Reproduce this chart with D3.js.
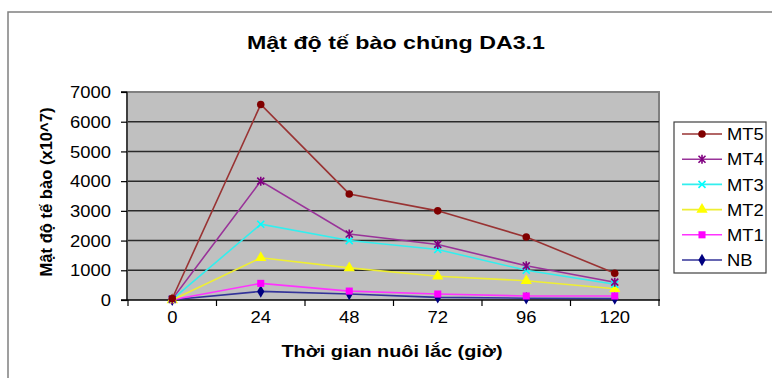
<!DOCTYPE html>
<html>
<head>
<meta charset="utf-8">
<script src="https://cdn.jsdelivr.net/npm/d3@7"></script>
<style>
  html, body { margin: 0; padding: 0; background: #fff; }
  svg { display: block; }
  text { font-family: Arial, "Liberation Sans", sans-serif; fill: #000; }
</style>
</head>
<body>
<svg id="chart" width="772" height="378"></svg>
<script>
// ---- Data ----
const categories = ["0", "24", "48", "72", "96", "120"];
const yTicks = [0, 1000, 2000, 3000, 4000, 5000, 6000, 7000];
const seriesNames = ["NB", "MT1", "MT2", "MT3", "MT4", "MT5"];
const NB  = [10, 290, 200, 90, 60, 50];
const MT1 = [10, 560, 300, 200, 135, 135];
const MT2 = [0, 1420, 1080, 800, 650, 380];
const MT3 = [20, 2550, 2000, 1700, 1000, 530];
const MT4 = [30, 4000, 2220, 1870, 1150, 600];
const MT5 = [50, 6580, 3570, 3000, 2120, 900];
const seriesValues = [NB, MT1, MT2, MT3, MT4, MT5];
const colors = ["#000080", "#FF00FF", "#FFFF00", "#00FFFF", "#800080", "#800000"];
const lineColors = ["#333399", "#FF33FF", "#EEEE33", "#33EEEE", "#993399", "#993333"];
const legendOrder = ["MT5", "MT4", "MT3", "MT2", "MT1", "NB"];

const svg = d3.select("#chart");

// outer chart frame (top & left visible)
svg.append("rect").attr("x", 8).attr("y", 12).attr("width", 800).attr("height", 400)
  .attr("fill", "#fff").attr("stroke", "#808080").attr("stroke-width", 1.5);

const L = 128, R = 659, T = 92, B = 300;
const x = d3.scaleBand().domain(categories).range([L, R]);
const y = d3.scaleLinear().domain([0, 7000]).range([B, T]);
const cx = d => x(d) + x.bandwidth() / 2;

// plot area
svg.append("rect").attr("x", L).attr("y", T).attr("width", R - L).attr("height", B - T)
  .attr("fill", "#C0C0C0");
// right & top border of plot
svg.append("path").attr("d", `M${L},${T}H${R}V${B}`).attr("fill", "none")
  .attr("stroke", "#808080").attr("stroke-width", 2);

// gridlines
svg.append("g").selectAll("line").data(yTicks.filter(v => v > 0 && v < 7000)).join("line")
  .attr("x1", L).attr("x2", R).attr("y1", d => y(d)).attr("y2", d => y(d))
  .attr("stroke", "#2a2a2a").attr("stroke-width", 1.5);

function stretch(sel, f) {
  sel.each(function () {
    const w = this.getComputedTextLength();
    d3.select(this).attr("textLength", w * f).attr("lengthAdjust", "spacingAndGlyphs");
  });
}

// y axis
const gy = svg.append("g").attr("transform", `translate(${L - 1},0)`)
  .call(d3.axisLeft(y).tickValues(yTicks).tickFormat(d3.format("d")).tickSize(6).tickPadding(10));
gy.select(".domain").attr("stroke", "#000").attr("stroke-width", 1.5).attr("d", `M-6,${T}H0V${B}H-6`);
gy.selectAll(".tick line").attr("stroke", "#000").attr("stroke-width", 1.2);
gy.selectAll("text").attr("font-size", 16).attr("font-family", "Arial, 'Liberation Sans', sans-serif")
  .attr("fill", "#000").attr("dy", "0.35em");
stretch(gy.selectAll("text"), 1.15);

// x axis
const gx = svg.append("g").attr("transform", `translate(0,${B})`)
  .call(d3.axisBottom(x).tickSize(0).tickPadding(11));
gx.select(".domain").attr("stroke", "#000").attr("stroke-width", 1.5).attr("d", `M${L - 1},0H${R + 1}`);
gx.selectAll("text").attr("font-size", 16).attr("font-family", "Arial, 'Liberation Sans', sans-serif")
  .attr("fill", "#000").attr("dy", "0.75em");
stretch(gx.selectAll("text"), 1.15);
const boundaries = categories.map(c => x(c)).concat([R]);
gx.append("g").selectAll("line").data(boundaries).join("line")
  .attr("x1", d => d).attr("x2", d => d).attr("y1", 0).attr("y2", 6)
  .attr("stroke", "#000").attr("stroke-width", 1.2);

// series
const line = d3.line().x((d, i) => cx(categories[i])).y(d => y(d));
seriesValues.forEach((vals, si) => {
  svg.append("path").datum(vals).attr("d", line).attr("fill", "none")
    .attr("stroke", lineColors[si]).attr("stroke-width", 1.6);
});

function markerPath(name) {
  const i = seriesNames.indexOf(name);
  const p = d3.path();
  if (name === "MT3") { // x
    const s = 3.5; p.moveTo(-s, -s); p.lineTo(s, s); p.moveTo(-s, s); p.lineTo(s, -s);
    return { d: p.toString(), fill: "none", stroke: colors[i] };
  }
  if (name === "MT4") { // asterisk
    const s = 3.5; p.moveTo(-s, -s); p.lineTo(s, s); p.moveTo(-s, s); p.lineTo(s, -s);
    p.moveTo(0, -4.5); p.lineTo(0, 4.5);
    return { d: p.toString(), fill: "none", stroke: colors[i] };
  }
  const sym = { NB: d3.symbolDiamond, MT1: d3.symbolSquare, MT2: d3.symbolTriangle, MT5: d3.symbolCircle }[name];
  const size = { NB: 45, MT1: 50, MT2: 55, MT5: 45 }[name];
  return { d: d3.symbol().type(sym).size(size)(), fill: colors[i], stroke: "none" };
}

seriesValues.forEach((vals, si) => {
  const m = markerPath(seriesNames[si]);
  svg.append("g").selectAll("path").data(vals).join("path")
    .attr("transform", (d, i) => `translate(${cx(categories[i])},${y(d)})`)
    .attr("d", m.d).attr("fill", m.fill).attr("stroke", m.stroke).attr("stroke-width", 1.6);
});

// title
svg.append("text").attr("x", 396).attr("y", 49).attr("text-anchor", "middle")
  .attr("font-size", 19).attr("font-weight", "bold")
  .attr("textLength", 298).attr("lengthAdjust", "spacingAndGlyphs")
  .text("Mật độ tế bào chủng DA3.1");

// axis titles
svg.append("text").attr("x", 392).attr("y", 357).attr("text-anchor", "middle")
  .attr("font-size", 17).attr("font-weight", "bold")
  .attr("textLength", 221).attr("lengthAdjust", "spacingAndGlyphs")
  .text("Thời gian nuôi lắc (giờ)");
svg.append("text").attr("transform", "translate(52,192) rotate(-90)").attr("text-anchor", "middle")
  .attr("font-size", 16).attr("font-weight", "bold")
  .attr("textLength", 169).attr("lengthAdjust", "spacingAndGlyphs")
  .text("Mật độ tế bào (x10^7)");

// legend
const lg = svg.append("g");
lg.append("rect").attr("x", 674).attr("y", 122).attr("width", 92).attr("height", 151)
  .attr("fill", "#fff").attr("stroke", "#404040").attr("stroke-width", 1.2);
const ly = d3.scalePoint().domain(legendOrder).range([134, 260]);
legendOrder.forEach(name => {
  const si = seriesNames.indexOf(name);
  const yy = ly(name);
  lg.append("line").attr("x1", 682).attr("x2", 722).attr("y1", yy).attr("y2", yy)
    .attr("stroke", lineColors[si]).attr("stroke-width", 1.6);
  const m = markerPath(name);
  lg.append("path").attr("transform", `translate(702,${yy})`).attr("d", m.d)
    .attr("fill", m.fill).attr("stroke", m.stroke).attr("stroke-width", 1.6);
  const t = lg.append("text").attr("x", 727).attr("y", yy).attr("dy", "0.36em")
    .attr("font-size", 17).text(name);
  stretch(t, 1.08);
});
</script>
</body>
</html>
